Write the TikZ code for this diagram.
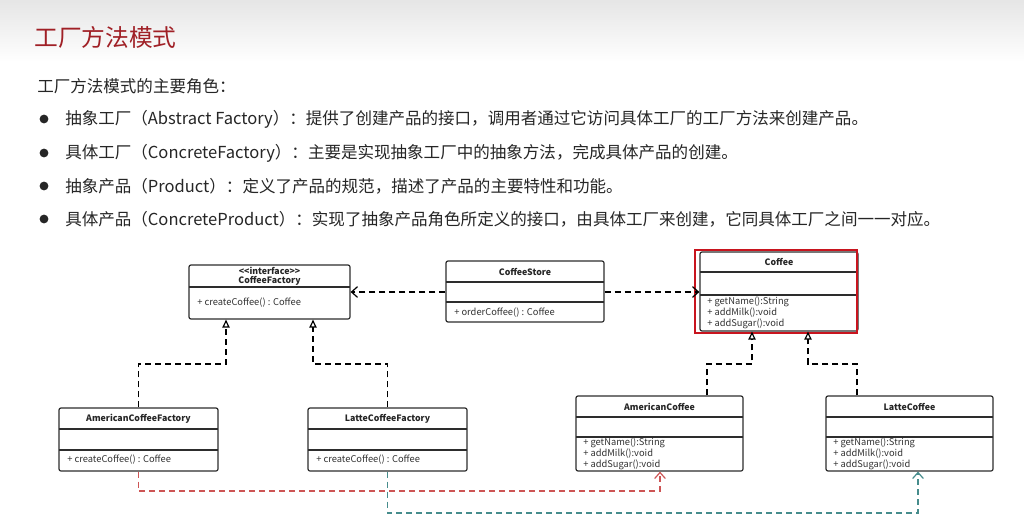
\documentclass[tikz,border=0pt]{standalone}
\usepackage{fontspec}
\setmainfont{Noto Sans CJK SC}
\usetikzlibrary{calc,positioning,fit,arrows.meta}
\definecolor{titlered}{RGB}{160,32,38}
\definecolor{linkred}{RGB}{205,85,85}
\definecolor{linkteal}{RGB}{70,140,140}
\definecolor{markred}{RGB}{200,20,30}
\definecolor{boxline}{RGB}{45,45,45}

\begin{document}
\begin{tikzpicture}[x=0.75pt,y=-0.75pt,
  txt/.style={anchor=west,inner sep=0pt,font=\fontsize{12.4}{14}\selectfont,text=black!85},
  cls/.style={draw=boxline,line width=0.9pt,rounded corners=1.5pt,inner sep=0pt},
  sep/.style={draw=boxline,line width=0.9pt},
  cname/.style={inner sep=0pt,font=\fontsize{6.6}{7.5}\selectfont\bfseries,text=black!85},
  mth/.style={anchor=north west,align=left,inner sep=0pt,font=\fontsize{7}{8.2}\selectfont,text=black!80},
  dep/.style={line width=0.9pt,dash pattern=on 4.5pt off 3pt,-{Straight Barb[length=4.5pt,width=8pt]}},
  real/.style={line width=0.9pt,dash pattern=on 4.5pt off 3pt,-{Triangle[open,length=6pt,width=5.5pt]}}]
\useasboundingbox (0,0) rectangle (1024,528);
\fill[white] (0,0) rectangle (1024,528);
\shade[top color=black!10,bottom color=white] (0,0) rectangle (1024,62);
%heading
\node[anchor=west,inner sep=0pt,font=\fontsize{17.8}{20}\selectfont,text=titlered] (title) at (34,37) {工厂方法模式};
\node[txt] (intro) at (37,86) {工厂方法模式的主要角色：};
%roles
\fill[black!85] (44,119) circle[radius=3.3pt];
\node[txt] (role1) at (65,119) {抽象工厂（Abstract Factory）：提供了创建产品的接口，调用者通过它访问具体工厂的工厂方法来创建产品。};
\fill[black!85] (44,153) circle[radius=3.3pt];
\node[txt] (role2) at (65,153) {具体工厂（ConcreteFactory）：主要是实现抽象工厂中的抽象方法，完成具体产品的创建。};
\fill[black!85] (44,186) circle[radius=3.3pt];
\node[txt] (role3) at (65,186) {抽象产品（Product）：定义了产品的规范，描述了产品的主要特性和功能。};
\fill[black!85] (44,219) circle[radius=3.3pt];
\node[txt] (role4) at (65,219) {具体产品（ConcreteProduct）：实现了抽象产品角色所定义的接口，由具体工厂来创建，它同具体工厂之间一一对应。};
%interface
\node[cls,fit={(189,265) (350,319)}] (cf) {};
\draw[sep] (189,287) -- (350,287);
\node[cname] (cfs) at (269.5,271) {{<}{<}interface{>}{>}};
\node[cname] (cft) at (269.5,281) {CoffeeFactory};
\node[mth] (cfm) at (197,298) {+ createCoffee() : Coffee};
%store
\node[cls,fit={(446,261) (604,322)}] (cs) {};
\draw[sep] (446,282) -- (604,282);
\draw[sep] (446,302) -- (604,302);
\node[cname] (cst) at (525,271.5) {CoffeeStore};
\node[mth] (csm) at (454,308) {+ orderCoffee() : Coffee};
%coffee
\node[cls,fit={(700,252) (858,331)}] (co) {};
\draw[sep] (700,272) -- (858,272);
\draw[sep] (700,295) -- (858,295);
\node[cname] (cot) at (779,262) {Coffee};
\node[mth] (com) at (707,297) {+ getName():String\\+ addMilk():void\\+ addSugar():void};
\draw[markred,line width=1.3pt] (695,250) rectangle (857,333);
%factories
\node[cls,fit={(59,408) (218,471)}] (acf) {};
\draw[sep] (59,429) -- (218,429);
\draw[sep] (59,450) -- (218,450);
\node[cname] (acft) at (138.5,418.5) {AmericanCoffeeFactory};
\node[mth] (acfm) at (67,455) {+ createCoffee() : Coffee};
\node[cls,fit={(308,408) (467,471)}] (lcf) {};
\draw[sep] (308,429) -- (467,429);
\draw[sep] (308,450) -- (467,450);
\node[cname] (lcft) at (387.5,418.5) {LatteCoffeeFactory};
\node[mth] (lcfm) at (316,455) {+ createCoffee() : Coffee};
%products
\node[cls,fit={(576,396) (743,471)}] (ac) {};
\draw[sep] (576,417) -- (743,417);
\draw[sep] (576,437) -- (743,437);
\node[cname] (act) at (659.5,406.5) {AmericanCoffee};
\node[mth] (acm) at (583,438) {+ getName():String\\+ addMilk():void\\+ addSugar():void};
\node[cls,fit={(826,396) (993,471)}] (lc) {};
\draw[sep] (826,417) -- (993,417);
\draw[sep] (826,437) -- (993,437);
\node[cname] (lct) at (909.5,406.5) {LatteCoffee};
\node[mth] (lcm) at (833,438) {+ getName():String\\+ addMilk():void\\+ addSugar():void};
%dependencies
\draw[dep] (cs.west |- 0,292) -- (cf.east |- 0,292);
\draw[dep] (cs.east |- 0,292) -- (co.west |- 0,292);
%realizations
\draw[real] (acf.north) |- (226,364) -- (cf.south -| 226,0);
\draw[real] (lcf.north) |- (313,364) -- (cf.south -| 313,0);
\draw[real] (ac.north -| 707,0) |- (752,364) -- (co.south -| 752,0);
\draw[real] (lc.north -| 857,0) |- (808,364) -- (co.south -| 808,0);
%creates
\draw[dep,linkred] (acf.south) |- (660,491) -- (ac.south -| 660,0);
\draw[dep,linkteal] (lcf.south) |- (918,513) -- (lc.south -| 918,0);
\end{tikzpicture}
\end{document}
